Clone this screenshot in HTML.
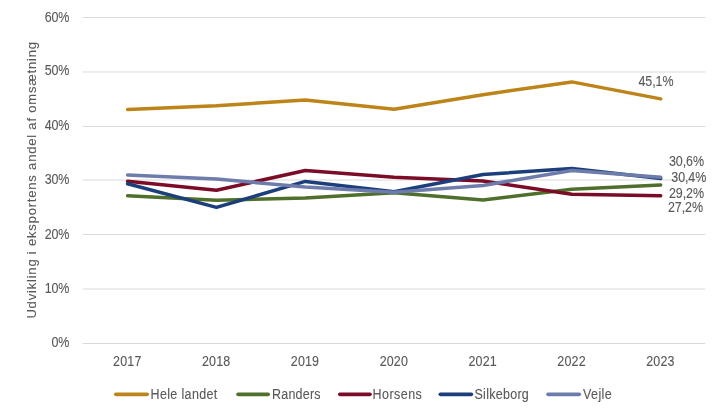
<!DOCTYPE html>
<html><head><meta charset="utf-8"><style>
html,body{margin:0;padding:0;background:#fff;}
body{width:723px;height:418px;overflow:hidden;position:relative;}
svg{position:absolute;left:0;top:0;}
.t{font-family:"Liberation Sans",sans-serif;fill:#595959;stroke:#595959;stroke-width:0.1px;}
</style></head><body>
<div id="wrap" style="position:absolute;left:0;top:0;width:723px;height:418px;will-change:transform">
<svg width="723" height="418" viewBox="0 0 723 418">
<rect x="82.70" y="343.00" width="622.60" height="1" fill="#D9D9D9"/>
<rect x="82.70" y="288.50" width="622.60" height="1" fill="#D9D9D9"/>
<rect x="82.70" y="233.93" width="622.60" height="1" fill="#D9D9D9"/>
<rect x="82.70" y="179.50" width="622.60" height="1" fill="#D9D9D9"/>
<rect x="82.70" y="125.94" width="622.60" height="1" fill="#D9D9D9"/>
<rect x="82.70" y="71.47" width="622.60" height="1" fill="#D9D9D9"/>
<rect x="82.70" y="17.00" width="622.60" height="1" fill="#D9D9D9"/>
<polyline points="127.60,109.50 216.45,105.80 305.30,100.00 394.15,109.20 483.00,94.70 571.85,81.90 660.70,98.90" fill="none" stroke="#BD8419" stroke-width="3.5" stroke-linejoin="round" stroke-linecap="round"/>
<polyline points="127.60,195.80 216.45,200.20 305.30,198.05 394.15,192.80 483.00,200.00 571.85,189.30 660.70,185.05" fill="none" stroke="#4F6F2C" stroke-width="3.5" stroke-linejoin="round" stroke-linecap="round"/>
<polyline points="127.60,181.20 216.45,190.20 305.30,170.50 394.15,177.20 483.00,180.90 571.85,194.25 660.70,195.80" fill="none" stroke="#7B0C27" stroke-width="3.5" stroke-linejoin="round" stroke-linecap="round"/>
<polyline points="127.60,183.80 216.45,207.40 305.30,181.40 394.15,191.80 483.00,174.50 571.85,168.40 660.70,178.60" fill="none" stroke="#1C3F7B" stroke-width="3.5" stroke-linejoin="round" stroke-linecap="round"/>
<polyline points="127.60,174.90 216.45,179.10 305.30,187.00 394.15,192.20 483.00,185.40 571.85,170.50 660.70,177.20" fill="none" stroke="#6D7CAB" stroke-width="3.5" stroke-linejoin="round" stroke-linecap="round"/>
<line x1="115.80" y1="394.35" x2="147.20" y2="394.35" stroke="#BD8419" stroke-width="3.6" stroke-linecap="round"/>
<line x1="238.00" y1="394.35" x2="268.20" y2="394.35" stroke="#4F6F2C" stroke-width="3.6" stroke-linecap="round"/>
<line x1="339.80" y1="394.35" x2="370.00" y2="394.35" stroke="#7B0C27" stroke-width="3.6" stroke-linecap="round"/>
<line x1="440.30" y1="394.35" x2="471.40" y2="394.35" stroke="#1C3F7B" stroke-width="3.6" stroke-linecap="round"/>
<line x1="548.00" y1="394.35" x2="579.30" y2="394.35" stroke="#6D7CAB" stroke-width="3.6" stroke-linecap="round"/>
<text id="y60" transform="translate(69.300,21.800) scale(1,1.1)" class="t" text-anchor="end" style="font-size:12.5px;letter-spacing:-0.150px">60%</text>
<text id="y50" transform="translate(69.300,74.950) scale(1,1.1)" class="t" text-anchor="end" style="font-size:12.5px;letter-spacing:-0.150px">50%</text>
<text id="y40" transform="translate(69.300,129.650) scale(1,1.1)" class="t" text-anchor="end" style="font-size:12.5px;letter-spacing:-0.150px">40%</text>
<text id="y30" transform="translate(69.300,183.950) scale(1,1.1)" class="t" text-anchor="end" style="font-size:12.5px;letter-spacing:-0.150px">30%</text>
<text id="y20" transform="translate(69.300,238.650) scale(1,1.1)" class="t" text-anchor="end" style="font-size:12.5px;letter-spacing:-0.150px">20%</text>
<text id="y10" transform="translate(69.300,292.900) scale(1,1.1)" class="t" text-anchor="end" style="font-size:12.5px;letter-spacing:-0.150px">10%</text>
<text id="y0" transform="translate(69.300,346.650) scale(1,1.1)" class="t" text-anchor="end" style="font-size:12.5px;letter-spacing:-0.150px">0%</text>
<text id="x2017" transform="translate(127.300,365.600) scale(1,1.1)" class="t" text-anchor="middle" style="font-size:12.5px;letter-spacing:0.150px">2017</text>
<text id="x2018" transform="translate(216.150,365.600) scale(1,1.1)" class="t" text-anchor="middle" style="font-size:12.5px;letter-spacing:0.150px">2018</text>
<text id="x2019" transform="translate(305.000,365.600) scale(1,1.1)" class="t" text-anchor="middle" style="font-size:12.5px;letter-spacing:0.150px">2019</text>
<text id="x2020" transform="translate(393.850,365.600) scale(1,1.1)" class="t" text-anchor="middle" style="font-size:12.5px;letter-spacing:0.150px">2020</text>
<text id="x2021" transform="translate(482.700,365.600) scale(1,1.1)" class="t" text-anchor="middle" style="font-size:12.5px;letter-spacing:0.150px">2021</text>
<text id="x2022" transform="translate(571.550,365.600) scale(1,1.1)" class="t" text-anchor="middle" style="font-size:12.5px;letter-spacing:0.150px">2022</text>
<text id="x2023" transform="translate(660.400,365.600) scale(1,1.1)" class="t" text-anchor="middle" style="font-size:12.5px;letter-spacing:0.150px">2023</text>
<text id="d451" transform="translate(638.500,85.800) scale(1,1.1)" class="t" text-anchor="start" style="font-size:12.5px;letter-spacing:-0.100px">45,1%</text>
<text id="d306" transform="translate(669.000,165.900) scale(1,1.1)" class="t" text-anchor="start" style="font-size:12.5px;letter-spacing:-0.100px">30,6%</text>
<text id="d304" transform="translate(671.300,181.800) scale(1,1.1)" class="t" text-anchor="start" style="font-size:12.5px;letter-spacing:-0.100px">30,4%</text>
<text id="d292" transform="translate(669.000,197.900) scale(1,1.1)" class="t" text-anchor="start" style="font-size:12.5px;letter-spacing:-0.100px">29,2%</text>
<text id="d272" transform="translate(668.000,211.900) scale(1,1.1)" class="t" text-anchor="start" style="font-size:12.5px;letter-spacing:-0.100px">27,2%</text>
<text id="lHele" transform="translate(150.500,398.500) scale(1,1.14)" class="t" text-anchor="start" style="font-size:12.5px;letter-spacing:0.360px">Hele landet</text>
<text id="lRand" transform="translate(272.000,398.500) scale(1,1.14)" class="t" text-anchor="start" style="font-size:12.5px;letter-spacing:0.233px">Randers</text>
<text id="lHors" transform="translate(372.500,398.500) scale(1,1.14)" class="t" text-anchor="start" style="font-size:12.5px;letter-spacing:0.467px">Horsens</text>
<text id="lSilk" transform="translate(474.500,398.500) scale(1,1.14)" class="t" text-anchor="start" style="font-size:12.5px;letter-spacing:0.275px">Silkeborg</text>
<text id="lVejl" transform="translate(583.000,398.500) scale(1,1.14)" class="t" text-anchor="start" style="font-size:12.5px;letter-spacing:0.400px">Vejle</text>
<text id="title" transform="translate(35.90,318.60) rotate(-90)" x="0" y="0" class="t" style="font-size:13px;letter-spacing:0.810px">Udvikling i eksportens andel af omsætning</text>
</svg></div>
</body></html>
